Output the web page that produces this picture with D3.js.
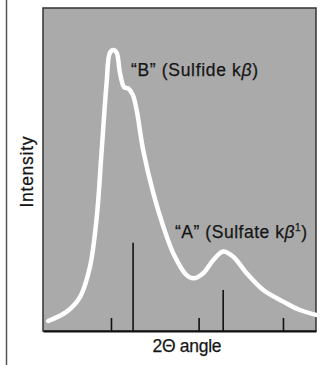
<!DOCTYPE html>
<head>
  <meta charset="utf-8">
  <script src="https://d3js.org/d3.v7.min.js"></script>
  <style>
    body { margin: 0; background: #fff; }
    text { font-family: "Liberation Sans", Arial, sans-serif; fill: #161616; stroke: #161616; stroke-width: 0.25px; }
  </style>
</head>
<body>
  <div id="chart"></div>
</body>

<script>

// intensity trace (2θ in arbitrary units, intensity 0-100)
var traceX = [1.9, 8.7, 13.6, 17.2, 19.7, 21.5, 23.3, 24.5, 25.8, 27.0, 28.2, 29.7, 31.2, 32.9, 34.3, 36.7,
              40.4, 44.1, 47.7, 52.6, 55.1, 58.7, 62.4, 66.0, 69.7, 74.6, 80.7, 88.0, 94.1, 100];
var traceY = [3.1, 6.0, 10.6, 19.9, 35.4, 56.0, 76.8, 86.1, 87.0, 86.1, 79.9, 75.5, 75.1, 73.1, 68.4, 56.0,
              42.7, 32.3, 24.1, 17.3, 16.3, 17.9, 22.0, 24.6, 23.0, 17.9, 12.7, 9.1, 6.5, 5.0];

// reference lines
var stickX = [33.0, 66.0];
var stickH = [27.3, 12.7];

// unlabelled ticks along the 2θ axis
var tickX = [24.9, 57.0, 87.9];

var labelB = "\u201CB\u201D (Sulfide k";
var labelA = "\u201CA\u201D (Sulfate k";

var W = 334, H = 365;
var margin = {top: 8, right: 18, bottom: 34, left: 43},
    width = W - margin.left - margin.right,
    height = H - margin.top - margin.bottom;

var svg = d3.select("#chart")
  .append("svg")
    .attr("width", W)
    .attr("height", H);

// page rule on the left
svg.append("line")
  .attr("x1", 6.5).attr("x2", 6.5)
  .attr("y1", 0).attr("y2", H)
  .style("stroke", "#555")
  .style("stroke-width", 1.5);

var g = svg.append("g")
  .attr("transform", "translate(" + margin.left + "," + margin.top + ")");

var x = d3.scaleLinear().domain([0, 100]).range([0, width]);
var y = d3.scaleLinear().domain([0, 100]).range([height, 0]);

// grey panel
g.append("rect")
  .attr("x", 0).attr("y", 0)
  .attr("width", width).attr("height", height)
  .style("fill", "#aaaaaa")
  .style("stroke", "#333")
  .style("stroke-width", 1.5);

// axis with inward ticks
g.append("g")
  .attr("transform", "translate(0," + height + ")")
  .call(d3.axisBottom(x).tickValues(tickX).tickSizeInner(-13).tickSizeOuter(0).tickFormat(""))
  .call(function(a) {
    a.select(".domain").style("stroke", "#111").style("stroke-width", 2);
    a.selectAll(".tick line").style("stroke", "#111").style("stroke-width", 1.6);
  });

// stick lines
g.selectAll(".stick")
  .data(stickX)
  .enter()
  .append("line")
    .attr("x1", function(d) { return x(d); })
    .attr("x2", function(d) { return x(d); })
    .attr("y1", y(0))
    .attr("y2", function(d, i) { return y(stickH[i]); })
    .style("stroke", "#111")
    .style("stroke-width", 1.6);

// trace
var pts = traceX.map(function(d, i) { return [d, traceY[i]]; });
g.append("path")
  .datum(pts)
  .attr("d", d3.line()
    .x(function(d) { return x(d[0]); })
    .y(function(d) { return y(d[1]); })
    .curve(d3.curveCatmullRom.alpha(0.5)))
  .style("fill", "none")
  .style("stroke", "#fff")
  .style("stroke-width", 4.5)
  .style("stroke-linecap", "round");

// peak labels
var tb = svg.append("text")
  .attr("x", 131).attr("y", 76)
  .attr("textLength", 127)
  .attr("lengthAdjust", "spacing")
  .style("font-size", "17.5px");
tb.append("tspan").text(labelB);
tb.append("tspan").style("font-style", "italic").text("\u03B2");
tb.append("tspan").text(")");

var ta = svg.append("text")
  .attr("x", 175).attr("y", 238)
  .attr("textLength", 132)
  .attr("lengthAdjust", "spacing")
  .style("font-size", "17.5px");
ta.append("tspan").text(labelA);
ta.append("tspan").style("font-style", "italic").text("\u03B2");
ta.append("tspan").attr("dy", -7).style("font-size", "10px").text("1");
ta.append("tspan").attr("dy", 7).text(")");

// axis titles
svg.append("text")
  .attr("transform", "translate(33,172) rotate(-90)")
  .attr("text-anchor", "middle")
  .attr("textLength", 71)
  .attr("lengthAdjust", "spacing")
  .style("font-size", "17.5px")
  .text("Intensity");

svg.append("text")
  .attr("x", 187).attr("y", 352)
  .attr("text-anchor", "middle")
  .attr("textLength", 69)
  .attr("lengthAdjust", "spacing")
  .style("font-size", "17.5px")
  .text("2\u0398 angle");

</script>
